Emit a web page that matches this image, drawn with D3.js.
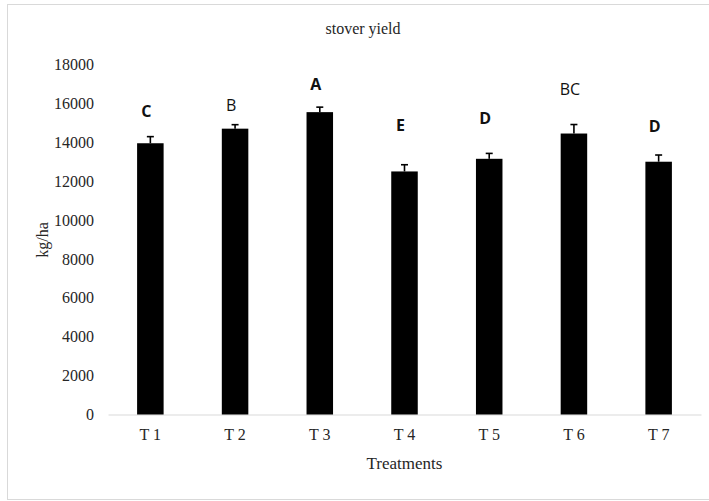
<!DOCTYPE html>
<html>
<head>
<meta charset="utf-8">
<script src="https://cdn.jsdelivr.net/npm/d3@7"></script>
<style>
  html, body { margin: 0; padding: 0; background: #fff; }
  svg { display: block; }
</style>
</head>
<body>
<svg id="chart" width="709" height="501"></svg>
<script>
// ---- data ----
const categories = ["T 1", "T 2", "T 3", "T 4", "T 5", "T 6", "T 7"];
const values = [13950, 14700, 15550, 12500, 13150, 14450, 13000];
const errors = [340, 205, 257, 345, 278, 463, 345];
const letters = ["C", "B", "A", "E", "D", "BC", "D"];
const letterBold = [true, false, true, true, true, false, true];
const letterAt = [15600, 15900, 17000, 14900, 15250, 16750, 14800];
const yTicks = [0, 2000, 4000, 6000, 8000, 10000, 12000, 14000, 16000, 18000];

const svg = d3.select("#chart");
const serif = "'Liberation Serif', 'Times New Roman', serif";
const sans = "'Open Sans', 'Noto Sans', sans-serif";
const textColor = "#262626";

// chart border
svg.append("rect")
  .attr("x", 7.5).attr("y", 4.5).attr("width", 710).attr("height", 495)
  .attr("fill", "none").attr("stroke", "#d9d9d9").attr("stroke-width", 1);

const x = d3.scaleBand().domain(categories).range([108, 701])
  .paddingInner(0.687).paddingOuter(0.3435);
const y = d3.scaleLinear().domain([0, 18000]).range([414.5, 64.5]);

// title
svg.append("text").attr("x", 363).attr("y", 34)
  .attr("text-anchor", "middle").attr("font-family", serif).attr("font-size", 16)
  .attr("fill", textColor).text("stover yield");

// y axis (labels only)
const yAxis = d3.axisLeft(y).tickValues(yTicks).tickSize(0).tickPadding(0).tickFormat(d3.format("d"));
const gy = svg.append("g").attr("transform", "translate(94,0)").call(yAxis);
gy.select(".domain").remove();
gy.selectAll("text").attr("font-family", serif).attr("font-size", 16).attr("fill", textColor);

// x axis
const xAxis = d3.axisBottom(x).tickSize(0).tickPadding(14);
const gx = svg.append("g").attr("transform", `translate(0,${y(0)})`).call(xAxis);
gx.select(".domain").attr("stroke", "#d9d9d9").attr("stroke-width", 1.2);
gx.selectAll("text").attr("font-family", serif).attr("font-size", 16).attr("fill", textColor);

// bars
svg.append("g").selectAll("rect").data(values).join("rect")
  .attr("x", (d, i) => x(categories[i]))
  .attr("y", d => y(d))
  .attr("width", x.bandwidth())
  .attr("height", d => y(0) - y(d))
  .attr("fill", "#000");

// error bars
const eg = svg.append("g").attr("stroke", "#000").attr("stroke-width", 1.6);
values.forEach((v, i) => {
  const cx = x(categories[i]) + x.bandwidth() / 2;
  eg.append("line").attr("x1", cx).attr("x2", cx).attr("y1", y(v)).attr("y2", y(v + errors[i]));
  eg.append("line").attr("x1", cx - 3.5).attr("x2", cx + 3.5).attr("y1", y(v + errors[i])).attr("y2", y(v + errors[i]));
});

// significance letters
svg.append("g").selectAll("text").data(letters).join("text")
  .attr("x", (d, i) => x(categories[i]) + x.bandwidth() / 2 - 4)
  .attr("y", (d, i) => y(letterAt[i]))
  .attr("dy", "0.36em")
  .attr("text-anchor", "middle")
  .attr("font-family", sans).attr("font-size", 16)
  .attr("font-weight", (d, i) => letterBold[i] ? 700 : 400)
  .attr("fill", "#111")
  .text(d => d);

// axis titles
svg.append("text").attr("x", 404.5).attr("y", 469)
  .attr("text-anchor", "middle").attr("font-family", serif).attr("font-size", 17)
  .attr("fill", textColor).text("Treatments");
svg.append("text").attr("transform", "translate(48,240) rotate(-90)")
  .attr("text-anchor", "middle").attr("font-family", serif).attr("font-size", 16)
  .attr("fill", textColor).text("kg/ha");
</script>
</body>
</html>
